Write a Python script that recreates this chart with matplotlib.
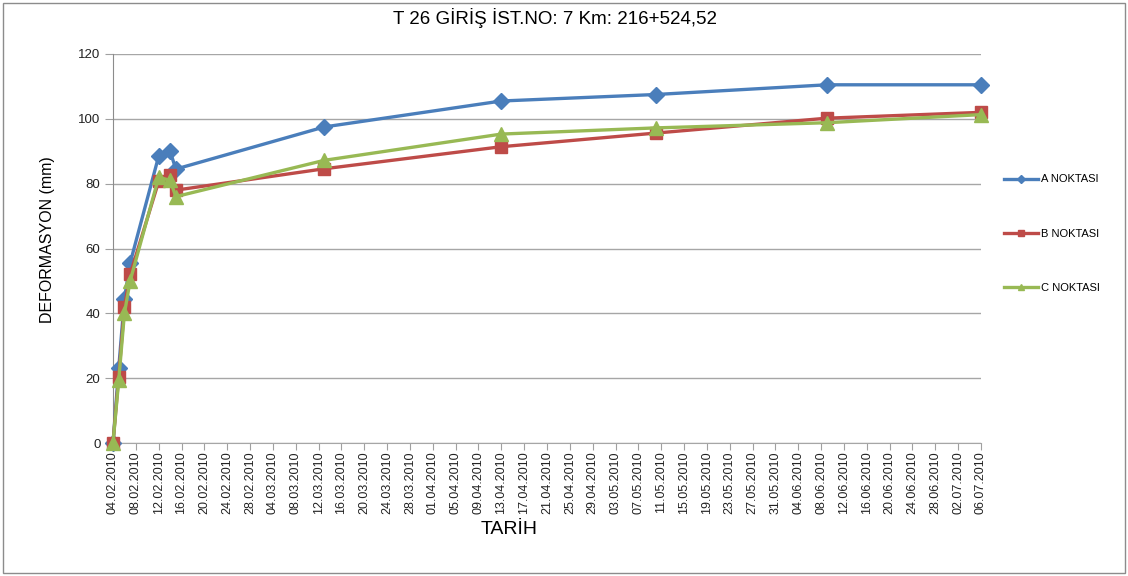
import matplotlib
matplotlib.use("Agg")
import matplotlib.pyplot as plt
import matplotlib.dates as mdates
from matplotlib.lines import Line2D
from matplotlib.patches import Rectangle
import pandas as pd

plt.rcParams['font.family'] = ['Liberation Sans', 'DejaVu Sans']

# Measurement dates and deformation readings (mm)
dates = ["04.02.2010", "05.02.2010", "06.02.2010", "07.02.2010", "12.02.2010",
         "14.02.2010", "15.02.2010", "13.03.2010", "13.04.2010", "10.05.2010",
         "09.06.2010", "06.07.2010"]
a_noktasi = [0, 23, 44.5, 55.5, 88.5, 90, 84.5, 97.5, 105.5, 107.5, 110.5, 110.5]
b_noktasi = [0, 20.5, 42, 52, 80.7, 82.8, 78, 84.6, 91.4, 95.6, 100.2, 102]
c_noktasi = [0, 19.3, 40, 50, 82, 81, 76, 87.2, 95.3, 97.2, 98.8, 101.3]

series_names = ["A NOKTASI", "B NOKTASI", "C NOKTASI"]
title = "T 26 GİRİŞ İST.NO: 7 Km: 216+524,52"
x_title = "TARİH"
y_title = "DEFORMASYON (mm)"
y_ticks = [0, 20, 40, 60, 80, 100, 120]
tick_start, tick_end = "04.02.2010", "06.07.2010"

x = pd.to_datetime(dates, format="%d.%m.%Y")
x0 = pd.to_datetime(tick_start, format="%d.%m.%Y")
x1 = pd.to_datetime(tick_end, format="%d.%m.%Y")
tick_dates = pd.date_range(x0, x1, freq="4D")

W, H = 1128, 576
fig = plt.figure(figsize=(W / 100, H / 100), dpi=100)
ax = fig.add_axes([113 / W, 1 - 443 / H, (981 - 113) / W, (443 - 54) / H])

colors = ["#4A7EBB", "#BE4B48", "#98B954"]
markers = ["D", "s", "^"]
msizes = [8.5, 9, 10]
for vals, col, mk, ms in zip([a_noktasi, b_noktasi, c_noktasi], colors, markers, msizes):
    ax.plot(x, vals, color=col, lw=2.4, marker=mk, markersize=ms,
            markeredgecolor=col, solid_joinstyle="round", zorder=3,
            clip_on=False)

ax.set_xlim(x0, x1)
ax.set_ylim(0, 120)
ax.set_yticks(y_ticks)
ax.set_xticks(tick_dates)
ax.xaxis.set_major_formatter(mdates.DateFormatter("%d.%m.%Y"))
ax.tick_params(axis="x", rotation=90, labelsize=9, length=5, color="#A0A0A0",
               pad=1, labelcolor="#222222")
ax.tick_params(axis="y", labelsize=9.5, length=6, color="#A0A0A0", pad=3,
               labelcolor="#222222")
ax.grid(axis="y", color="#A6A6A6", lw=1)
ax.set_axisbelow(True)
for s in ["top", "right"]:
    ax.spines[s].set_visible(False)
ax.spines["left"].set_color("#8C8C8C")
ax.spines["bottom"].set_color("#A6A6A6")

fig.text(555 / W, 1 - 18 / H, title, ha="center", va="center", fontsize=13.5)
fig.text(48 / W, 1 - 240 / H, y_title, ha="center", va="center",
         rotation=90, fontsize=11.5)
fig.text(509 / W, 1 - 530 / H, x_title, ha="center", va="center", fontsize=14)

handles = [Line2D([], [], color=c, lw=2.4, marker=m, markersize=4)
           for c, m in zip(colors, markers)]
ax.legend(handles, series_names, loc="upper left",
          bbox_to_anchor=(1000 / W, 1 - 170 / H), bbox_transform=fig.transFigure,
          frameon=False, fontsize=8, handlelength=3.0, handletextpad=0.3,
          labelspacing=4.0, borderaxespad=0)

fig.patches.append(Rectangle((3 / W, 3 / H), 1 - 6 / W, 1 - 6 / H,
                             transform=fig.transFigure, fill=False,
                             edgecolor="#8C8C8C", lw=1))

fig.savefig("out.png", dpi=100)
